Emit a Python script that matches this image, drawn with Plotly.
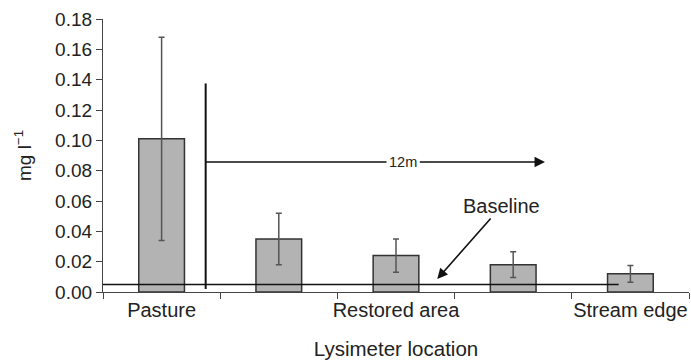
import plotly.graph_objects as go

categories = ["Pasture", "Site 2", "Restored area", "Site 4", "Stream edge"]
labelled = ["Pasture", "Restored area", "Stream edge"]
means = [0.101, 0.035, 0.024, 0.018, 0.012]
errors = [0.067, 0.017, 0.011, 0.0085, 0.0055]
baseline_value = 0.005
y_ticks = [0.00, 0.02, 0.04, 0.06, 0.08, 0.10, 0.12, 0.14, 0.16, 0.18]

FONT = "Liberation Sans, Arial, Helvetica, sans-serif"
TXT = "#222222"

x_pos = list(range(len(categories)))
label_pos = [categories.index(c) for c in labelled]

fig = go.Figure()
fig.add_trace(go.Bar(
    x=x_pos, y=means, width=0.39, hovertext=categories,
    marker=dict(color="#b3b3b3", line=dict(color="#333333", width=1.5)),
    error_y=dict(type="data", array=errors, visible=True,
                 color="#555555", thickness=1.5, width=3),
))

# baseline horizontal line
fig.add_shape(type="line", xref="x", yref="y", x0=-0.5, x1=3.9,
              y0=baseline_value, y1=baseline_value,
              line=dict(color="#111111", width=1.5), layer="above")
# vertical marker line
fig.add_shape(type="line", xref="x", yref="y", x0=0.376, x1=0.376,
              y0=0.002, y1=0.1375, line=dict(color="#111111", width=2), layer="above")

# 12m arrow: left segment + labelled arrow
fig.add_shape(type="line", xref="x", yref="y", x0=0.376, x1=2.062,
              y0=0.0857, y1=0.0857, line=dict(color="#111111", width=1.6), layer="above")
fig.add_annotation(x=3.271, y=0.0857, ax=2.062, ay=0.0857, xref="x", yref="y",
                   axref="x", ayref="y", text="12m", showarrow=True,
                   bgcolor="white", borderpad=2,
                   arrowhead=2, arrowsize=1.3, arrowwidth=1.6, arrowcolor="#111111",
                   font=dict(family=FONT, size=14.5, color=TXT))

# Baseline label with arrow
fig.add_annotation(x=2.352, y=0.0086, ax=2.902, ay=0.0567, xref="x", yref="y",
                   axref="x", ayref="y", text="Baseline", showarrow=True,
                   arrowhead=2, arrowsize=1.3, arrowwidth=1.6, arrowcolor="#111111",
                   font=dict(family=FONT, size=20, color=TXT))

fig.update_layout(
    width=691, height=360,
    margin=dict(l=103, r=2, t=19, b=68),
    plot_bgcolor="white", paper_bgcolor="white",
    showlegend=False,
    font=dict(family=FONT, color=TXT),
)
fig.update_xaxes(
    range=[-0.5, 4.5], automargin=False, tickangle=0,
    tickmode="array", tickvals=label_pos, ticktext=labelled,
    ticks="",
    minor=dict(tick0=-0.5, dtick=1, ticks="outside", ticklen=6, tickcolor="#444444", showgrid=False),
    showline=True, linecolor="#444444", linewidth=1.2,
    showgrid=False, zeroline=False,
    tickfont=dict(family=FONT, size=20, color=TXT),
    title=dict(text="Lysimeter location", standoff=22,
               font=dict(family=FONT, size=20.5, color=TXT)),
)
fig.update_yaxes(
    range=[0, 0.18], automargin=False, tickmode="array", tickvals=y_ticks,
    ticktext=[f"{v:.2f}" for v in y_ticks],
    ticks="outside", ticklen=6, tickcolor="#444444",
    showline=True, linecolor="#444444", linewidth=1.2,
    showgrid=False, zeroline=False,
    tickfont=dict(family=FONT, size=19, color=TXT),
    title=dict(text="mg l<sup>−1</sup>", standoff=18,
               font=dict(family=FONT, size=19, color=TXT)),
)

fig.write_html("out.html")
